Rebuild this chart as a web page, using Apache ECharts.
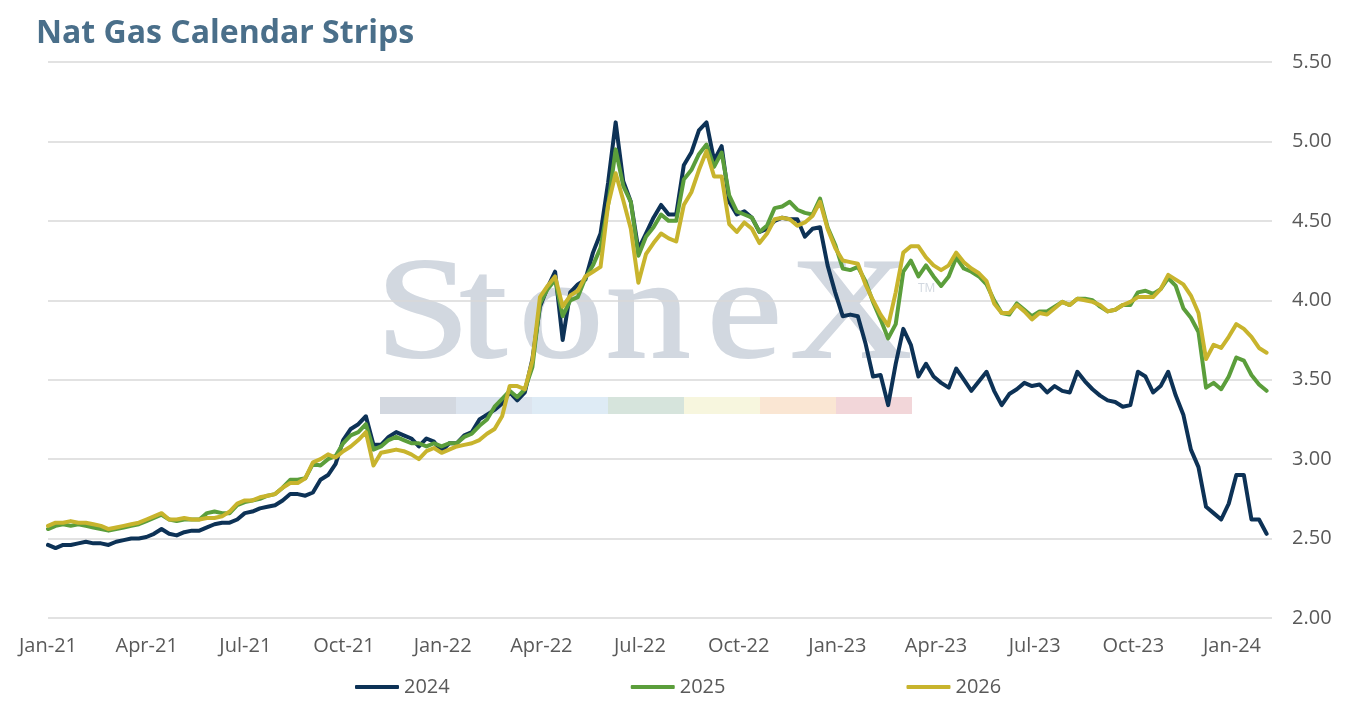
<!DOCTYPE html>
<html>
<head>
    <meta charset="utf-8">
    <title>Nat Gas Calendar Strips</title>
    <script src="https://cdn.jsdelivr.net/npm/echarts@6/dist/echarts.min.js"></script>
    <style>
        html, body { margin: 0; padding: 0; background: #fff; }
        #main { width: 1350px; height: 707px; }
    </style>
</head>
<body>
<div id="main"></div>
<script>
    // weekly samples starting Jan-21, one value per week
    var stepDays = 7;
    var seriesNames = ['2024', '2025', '2026'];
    var quarterNames = ['Jan', 'Apr', 'Jul', 'Oct'];
    var yTicks = [2.00, 2.50, 3.00, 3.50, 4.00, 4.50, 5.00, 5.50];

    var strip2024 = [
        2.46, 2.44, 2.46, 2.46, 2.47, 2.48, 2.47, 2.47, 2.46, 2.48,
        2.49, 2.50, 2.50, 2.51, 2.53, 2.56, 2.53, 2.52, 2.54, 2.55,
        2.55, 2.57, 2.59, 2.60, 2.60, 2.62, 2.66, 2.67, 2.69, 2.70,
        2.71, 2.74, 2.78, 2.78, 2.77, 2.79, 2.87, 2.90, 2.97, 3.12,
        3.19, 3.22, 3.27, 3.09, 3.09, 3.14, 3.17, 3.15, 3.13, 3.08,
        3.13, 3.11, 3.05, 3.10, 3.10, 3.15, 3.17, 3.25, 3.28, 3.31,
        3.35, 3.42, 3.37, 3.42, 3.63, 3.96, 4.08, 4.18, 3.75, 4.05,
        4.10, 4.13, 4.30, 4.42, 4.74, 5.12, 4.75, 4.62, 4.32, 4.42,
        4.52, 4.60, 4.54, 4.54, 4.85, 4.93, 5.07, 5.12, 4.88, 4.97,
        4.62, 4.54, 4.56, 4.52, 4.43, 4.45, 4.50, 4.52, 4.51, 4.51,
        4.40, 4.45, 4.46, 4.22, 4.05, 3.90, 3.91, 3.90, 3.73, 3.52,
        3.53, 3.34, 3.60, 3.82, 3.72, 3.52, 3.60, 3.52, 3.48, 3.45,
        3.57, 3.50, 3.43, 3.49, 3.55, 3.43, 3.34, 3.41, 3.44, 3.48,
        3.46, 3.47, 3.42, 3.46, 3.43, 3.42, 3.55, 3.49, 3.44, 3.40,
        3.37, 3.36, 3.33, 3.34, 3.55, 3.52, 3.42, 3.46, 3.55, 3.40,
        3.28, 3.06, 2.95, 2.70, 2.66, 2.62, 2.72, 2.90, 2.90, 2.62,
        2.62, 2.53
    ];
    var strip2025 = [
        2.56, 2.58, 2.59, 2.58, 2.59, 2.58, 2.57, 2.56, 2.55, 2.56,
        2.57, 2.58, 2.59, 2.61, 2.63, 2.65, 2.62, 2.61, 2.62, 2.62,
        2.62, 2.66, 2.67, 2.66, 2.66, 2.71, 2.73, 2.74, 2.75, 2.77,
        2.78, 2.82, 2.87, 2.87, 2.88, 2.97, 2.96, 3.00, 3.02, 3.10,
        3.15, 3.17, 3.22, 3.06, 3.08, 3.12, 3.14, 3.12, 3.10, 3.10,
        3.08, 3.10, 3.08, 3.10, 3.10, 3.14, 3.16, 3.21, 3.25, 3.33,
        3.38, 3.43, 3.39, 3.44, 3.58, 3.98, 4.07, 4.13, 3.90, 4.00,
        4.02, 4.14, 4.22, 4.33, 4.60, 4.95, 4.72, 4.62, 4.28, 4.40,
        4.46, 4.54, 4.50, 4.50, 4.76, 4.82, 4.92, 4.98, 4.84, 4.93,
        4.66, 4.56, 4.54, 4.52, 4.43, 4.47, 4.58, 4.59, 4.62, 4.57,
        4.55, 4.54, 4.64, 4.46, 4.35, 4.20, 4.19, 4.21, 4.12, 3.99,
        3.88, 3.76, 3.85, 4.18, 4.25, 4.15, 4.22, 4.15, 4.09, 4.15,
        4.27, 4.20, 4.18, 4.15, 4.10, 4.00, 3.92, 3.91, 3.98, 3.94,
        3.90, 3.93, 3.93, 3.96, 3.99, 3.97, 4.01, 4.01, 4.00, 3.96,
        3.93, 3.94, 3.97, 3.97, 4.05, 4.06, 4.04, 4.07, 4.14, 4.09,
        3.95, 3.89, 3.80, 3.45, 3.48, 3.44, 3.52, 3.64, 3.62, 3.53,
        3.47, 3.43
    ];
    var strip2026 = [
        2.58, 2.60, 2.60, 2.61, 2.60, 2.60, 2.59, 2.58, 2.56, 2.57,
        2.58, 2.59, 2.60, 2.62, 2.64, 2.66, 2.62, 2.62, 2.63, 2.62,
        2.62, 2.63, 2.63, 2.64, 2.67, 2.72, 2.74, 2.74, 2.76, 2.77,
        2.78, 2.82, 2.85, 2.85, 2.88, 2.98, 3.00, 3.03, 3.01, 3.05,
        3.08, 3.12, 3.17, 2.96, 3.04, 3.05, 3.06, 3.05, 3.03, 3.00,
        3.05, 3.07, 3.04, 3.06, 3.08, 3.09, 3.10, 3.12, 3.16, 3.19,
        3.27, 3.46, 3.46, 3.44, 3.62, 4.02, 4.09, 4.15, 3.96, 4.03,
        4.06, 4.15, 4.18, 4.21, 4.60, 4.80, 4.63, 4.45, 4.11, 4.29,
        4.36, 4.42, 4.39, 4.37, 4.60, 4.68, 4.82, 4.94, 4.78, 4.78,
        4.48, 4.43, 4.49, 4.45, 4.36, 4.42, 4.51, 4.52, 4.51, 4.47,
        4.49, 4.53, 4.62, 4.45, 4.33, 4.25, 4.24, 4.23, 4.10, 4.00,
        3.91, 3.84, 4.05, 4.30, 4.34, 4.34, 4.27, 4.22, 4.19, 4.22,
        4.30, 4.24, 4.20, 4.17, 4.12, 3.98, 3.92, 3.92, 3.97, 3.93,
        3.88, 3.92, 3.91, 3.95, 3.99, 3.97, 4.01, 4.00, 3.99, 3.97,
        3.93, 3.94, 3.97, 3.99, 4.02, 4.02, 4.02, 4.07, 4.16, 4.13,
        4.10, 4.03, 3.92, 3.63, 3.72, 3.70, 3.77, 3.85, 3.82, 3.77,
        3.70, 3.67
    ];

    var colors = ['#0d3256', '#5b9e3b', '#c8b42d'];
    var bandColors = ['#d3d8e0', '#dce4ee', '#deebf5', '#d6e4dc', '#f7f6de', '#fae6d3', '#f2d6d9'];
    var quarterDays = 91.25;

    function toPoints(arr) {
        return arr.map(function (v, i) { return [i * stepDays, v]; });
    }

    // watermark letters, drawn behind everything
    var wmLetters = [['S', 376], ['t', 460], ['o', 519], ['n', 606], ['e', 707], ['X', 790]];
    var graphics = [];
    wmLetters.forEach(function (l) {
        graphics.push({
            type: 'text', x: l[1], y: 319, z: -10, silent: true, scaleX: 1.18,
            style: {
                text: l[0], fill: '#d2d8e0', stroke: '#d2d8e0', lineWidth: 2,
                font: '143px "Liberation Serif"', verticalAlign: 'middle', align: 'left'
            }
        });
    });
    graphics.push({
        type: 'text', x: 918, y: 289, z: -10, silent: true,
        style: { text: 'TM', fill: '#d2d8e0', font: '12px "Open Sans"', verticalAlign: 'middle' }
    });
    bandColors.forEach(function (c, k) {
        graphics.push({
            type: 'rect', z: -10, silent: true,
            shape: { x: 380 + k * 76, y: 397, width: 76, height: 17 },
            style: { fill: c }
        });
    });

    var myChart = echarts.init(document.getElementById('main'));
    var option = {
        backgroundColor: '#ffffff',
        animation: false,
        title: {
            text: 'Nat Gas Calendar Strips',
            left: 31, top: 13,
            textStyle: { fontFamily: 'Open Sans', fontSize: 32, fontWeight: 'bold', color: '#4a6f8a' }
        },
        graphic: graphics,
        grid: { left: 48, right: 78, top: 62, bottom: 89 },
        legend: {
            left: 350, top: 672,
            icon: 'roundRect',
            itemWidth: 44, itemHeight: 4,
            itemGap: 181,
            textStyle: { fontFamily: 'Open Sans', fontSize: 20, color: '#595959' },
            data: seriesNames
        },
        xAxis: {
            type: 'value',
            min: 0, max: 1132,
            interval: quarterDays,
            axisLine: { show: false },
            axisTick: { show: false },
            splitLine: { show: false },
            axisLabel: {
                margin: 18,
                fontFamily: 'Open Sans', fontSize: 20, color: '#595959',
                showMaxLabel: false,
                formatter: function (v) {
                    var q = Math.round(v / quarterDays);
                    if (Math.abs(v - q * quarterDays) > 1) return '';
                    return quarterNames[q % 4] + '-' + (21 + Math.floor(q / 4));
                }
            }
        },
        yAxis: {
            type: 'value',
            position: 'right',
            min: yTicks[0], max: yTicks[yTicks.length - 1],
            interval: 0.5,
            axisLine: { show: false },
            axisTick: { show: false },
            splitLine: { lineStyle: { color: '#d9d9d9', width: 1.5 } },
            axisLabel: {
                margin: 20,
                fontFamily: 'Open Sans', fontSize: 20, color: '#595959',
                formatter: function (v) { return v.toFixed(2); }
            }
        },
        series: [
            { name: seriesNames[0], type: 'line', data: toPoints(strip2024) },
            { name: seriesNames[1], type: 'line', data: toPoints(strip2025) },
            { name: seriesNames[2], type: 'line', data: toPoints(strip2026) }
        ].map(function (s, k) {
            s.showSymbol = false;
            s.symbol = 'none';
            s.color = colors[k];
            s.lineStyle = { width: 4, color: colors[k], cap: 'round', join: 'round' };
            return s;
        })
    };
    myChart.setOption(option);
</script>
</body>
</html>
